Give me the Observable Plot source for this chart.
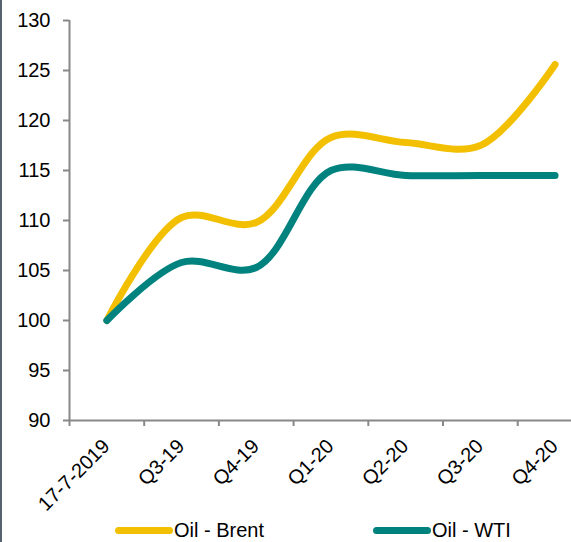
<!DOCTYPE html>
<html>
<head>
<meta charset="utf-8">
<script src="https://cdn.jsdelivr.net/npm/d3@7"></script>
<script src="https://cdn.jsdelivr.net/npm/@observablehq/plot@0.6"></script>
<style>
  html, body { margin: 0; padding: 0; background: #fff; }
  #wrap { position: relative; width: 571px; height: 542px; overflow: hidden; font-family: "Liberation Sans", Arial, sans-serif; }
  #border { position: absolute; left: 0; top: 0; width: 2px; height: 542px; background: #56636e; }
  #legend { position: absolute; left: 0; top: 515px; width: 571px; height: 27px; font-size: 20px; color: #000; }
  .item { position: absolute; top: 3px; display: flex; align-items: center; height: 24px; }
  .sw { display: inline-block; width: 58px; height: 7px; border-radius: 4px; margin-right: 1px; }
</style>
</head>
<body>
<div id="wrap">
  <div id="chart"></div>
  <div id="legend"></div>
  <div id="border"></div>
</div>
<script>
const categories = ["17-7-2019", "Q3-19", "Q4-19", "Q1-20", "Q2-20", "Q3-20", "Q4-20"];
const brent = [100, 110.3, 109.8, 118.3, 117.8, 117.5, 125.6];
const wti = [100, 105.8, 105.3, 115.0, 114.5, 114.5, 114.5];
const seriesNames = ["Oil - Brent", "Oil - WTI"];
const seriesColors = ["#f2c000", "#00827f"];
const yTicks = [90, 95, 100, 105, 110, 115, 120, 125, 130];

const rows = [];
[brent, wti].forEach((vals, s) => vals.forEach((v, i) => rows.push({series: seriesNames[s], i, v})));
const idx = categories.map((_, i) => i);
const boundaries = categories.map((_, i) => i - 0.5);

const chart = Plot.plot({
  width: 571,
  height: 515,
  marginLeft: 69,
  marginRight: 0,
  marginTop: 20,
  marginBottom: 95,
  style: {fontFamily: "'Liberation Sans', Arial, sans-serif", fontSize: "20px", color: "#000", background: "transparent"},
  x: {type: "linear", domain: [-0.5, 6.22], axis: null},
  y: {type: "linear", domain: [90, 130], axis: null},
  color: {domain: seriesNames, range: seriesColors},
  marks: [
    Plot.ruleY([90], {stroke: "#888", strokeWidth: 2}),
    Plot.ruleX([-0.5], {y1: 90, y2: 130, stroke: "#888", strokeWidth: 2}),
    Plot.ruleX(boundaries, {x: d => d, y1: 90, y2: 90, insetBottom: -6, stroke: "#888", strokeWidth: 2}),
    Plot.axisY({ticks: yTicks, label: null, tickSize: 6, tickPadding: 13, stroke: "#888", fill: "#000", fontSize: 20, strokeWidth: 2, tickFormat: d => d}),
    Plot.text(idx, {x: d => d, y: 90, text: d => categories[d], rotate: -45, textAnchor: "end", lineAnchor: "bottom", dx: 4, dy: 27, fontSize: 20, fill: "#000"}),
    Plot.line(rows, {x: "i", y: "v", z: "series", stroke: "series", strokeWidth: 7, curve: "catmull-rom", strokeLinecap: "round", strokeLinejoin: "round"})
  ]
});
document.getElementById("chart").appendChild(chart);

const legend = document.getElementById("legend");
const legendX = [115, 373];
seriesNames.forEach((name, s) => {
  const it = document.createElement("div");
  it.className = "item";
  it.style.left = legendX[s] + "px";
  const sw = document.createElement("span");
  sw.className = "sw";
  sw.style.background = seriesColors[s];
  const t = document.createElement("span");
  t.textContent = name;
  it.appendChild(sw);
  it.appendChild(t);
  legend.appendChild(it);
});
</script>
</body>
</html>
